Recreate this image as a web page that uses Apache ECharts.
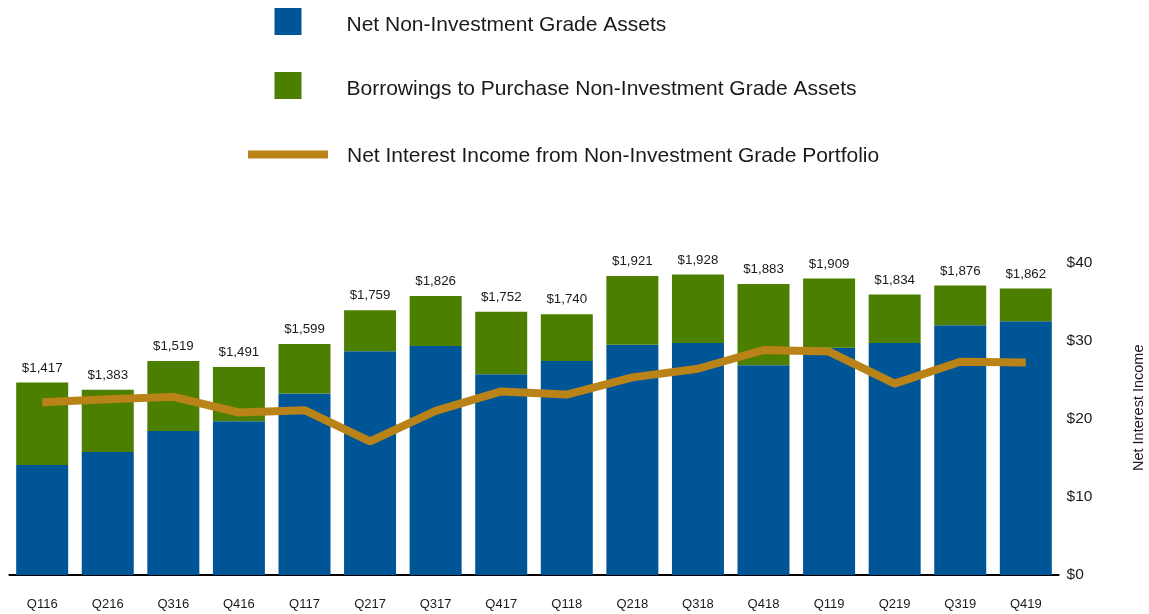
<!DOCTYPE html>
<html>
<head>
<meta charset="utf-8">
<script src="https://cdn.jsdelivr.net/npm/echarts@6/dist/echarts.min.js"></script>
<style>
html,body{margin:0;padding:0;background:#fff;}
#chart{width:1149px;height:614px;}
</style>
</head>
<body>
<div id="chart"></div>
<script>
var categories = ['Q116','Q216','Q316','Q416','Q117','Q217','Q317','Q417','Q118','Q218','Q318','Q418','Q119','Q219','Q319','Q419'];
var totals = [1417,1383,1519,1491,1599,1759,1826,1752,1740,1921,1928,1883,1909,1834,1876,1862];
var netAssets = [1027,1089,1188,1234,1365,1565,1590,1456,1519,1596,1604,1499,1582,1604,1688,1707];
var borrowings = [390,294,331,257,234,194,236,296,221,325,324,384,327,230,188,155];
var netInterest = [22.1,22.5,22.8,20.8,21.1,17.1,21.0,23.5,23.1,25.3,26.4,28.8,28.6,24.5,27.3,27.2];

var FONT = '"Liberation Sans", Arial, sans-serif';
var TXT = '#1a1a1a';

//千位分隔
function fmtMoney(v){
    return '$' + String(v).replace(/\B(?=(\d{3})+(?!\d))/g, ',');
}

//图例文字（用rich调整位置）
function legendText(padTop, padLeft){
    return {
        rich: {
            t: { fontSize: 21, color: TXT, fontFamily: FONT, padding: [padTop, 0, 0, padLeft] }
        }
    };
}
function legendFmt(name){
    return '{t|' + name + '}';
}

var chart = echarts.init(document.getElementById('chart'));

chart.setOption({
    animation: false,
    textStyle: { fontFamily: FONT },
    legend: [{
        data: ['Net Non-Investment Grade Assets'],
        left: 274.5, top: 8,
        padding: 0,
        itemWidth: 27, itemHeight: 27,
        icon: 'rect',
        selectedMode: false,
        itemStyle: { borderWidth: 0 },
        formatter: legendFmt,
        textStyle: legendText(8, 40)
    }, {
        data: ['Borrowings to Purchase Non-Investment Grade Assets'],
        left: 274.5, top: 72,
        padding: 0,
        itemWidth: 27, itemHeight: 27,
        icon: 'rect',
        selectedMode: false,
        itemStyle: { borderWidth: 0 },
        formatter: legendFmt,
        textStyle: legendText(8, 40)
    }, {
        data: ['Net Interest Income from Non-Investment Grade Portfolio'],
        left: 248, top: 146,
        padding: 0,
        itemWidth: 80, itemHeight: 8,
        icon: 'rect',
        selectedMode: false,
        itemStyle: { borderWidth: 0 },
        formatter: legendFmt,
        textStyle: legendText(4, 14)
    }],
    grid: { left: 9.4, right: 90.4, top: 262.5, bottom: 39, containLabel: false, outerBoundsMode: 'none' },
    xAxis: {
        type: 'category',
        data: categories,
        axisLine: { show: true, lineStyle: { color: '#000', width: 2 } },
        axisTick: { show: false },
        axisLabel: { color: TXT, fontSize: 13, fontFamily: FONT, margin: 23 }
    },
    yAxis: [{
        type: 'value',
        min: 507,
        max: 1985,
        show: false,
        splitLine: { show: false }
    }, {
        type: 'value',
        position: 'right',
        min: 0,
        max: 40,
        interval: 10,
        splitLine: { show: false },
        axisLine: { show: false },
        axisTick: { show: false },
        axisLabel: {
            color: TXT, fontSize: 15.5, fontFamily: FONT, margin: 8,
            formatter: function(v){ return '$' + v; }
        },
        name: 'Net Interest Income',
        nameLocation: 'middle',
        nameRotate: 90,
        nameGap: 73,
        nameTextStyle: { color: TXT, fontSize: 14.5, fontFamily: FONT, padding: [0, 0, 0, 22] }
    }],
    series: [{
        name: 'Net Non-Investment Grade Assets',
        type: 'bar',
        stack: 'assets',
        yAxisIndex: 0,
        barWidth: 52,
        itemStyle: { color: '#005596' },
        data: netAssets
    }, {
        name: 'Borrowings to Purchase Non-Investment Grade Assets',
        type: 'bar',
        stack: 'assets',
        yAxisIndex: 0,
        barWidth: 52,
        itemStyle: { color: '#4C7F00' },
        label: {
            show: true,
            position: 'top',
            distance: 8,
            color: TXT,
            fontSize: 13.3,
            fontFamily: FONT,
            formatter: function(p){ return fmtMoney(totals[p.dataIndex]); }
        },
        data: borrowings
    }, {
        name: 'Net Interest Income from Non-Investment Grade Portfolio',
        type: 'line',
        yAxisIndex: 1,
        color: '#BA8318',
        symbol: 'none',
        lineStyle: { color: '#BA8318', width: 8 },
        itemStyle: { color: '#BA8318' },
        z: 5,
        data: netInterest
    }]
});
</script>
</body>
</html>
